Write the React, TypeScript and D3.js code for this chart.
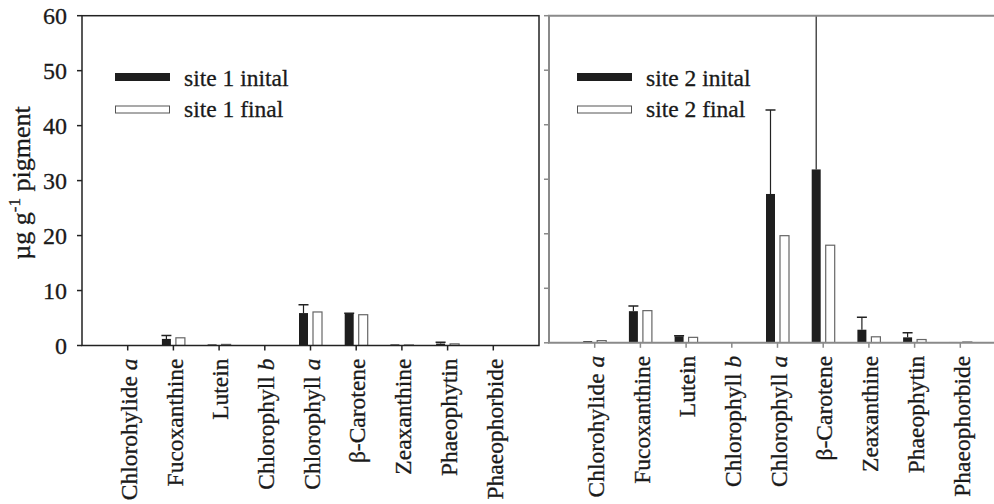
import React from 'react';
import * as d3 from 'd3';

// pigment names; the trailing italic letter is kept separately
const categories = ['Chlorohylide', 'Fucoxanthine', 'Lutein', 'Chlorophyll', 'Chlorophyll', 'β-Carotene', 'Zeaxanthine', 'Phaeophytin', 'Phaeophorbide'];
const categoryItalic = ['a', '', '', 'b', 'a', '', '', '', ''];

const site1Initial = [0, 1.2, 0.2, 0, 5.9, 5.75, 0.2, 0.35, 0];
const site1InitialErr = [0, 0.6, 0, 0, 1.5, 0.1, 0, 0.25, 0];
const site1Final = [0, 1.4, 0.2, 0, 6.1, 5.6, 0.1, 0.3, 0];

const site2Initial = [0.3, 5.8, 1.2, 0, 27.3, 31.8, 2.4, 1.0, 0.15];
const site2InitialErr = [0, 0.95, 0.1, 0, 15.4, 40, 2.3, 0.85, 0];
const site2Final = [0.4, 5.9, 1.0, 0, 19.65, 17.9, 1.1, 0.6, 0.15];

const yTicks = [0, 10, 20, 30, 40, 50, 60];

const FONT = "'Liberation Serif', 'Times New Roman', Tinos, serif";
const INK = '#1a1a1a';
// the scan is a bit heavier than the plain font, a thin stroke darkens it
const txt = { fontFamily: FONT, stroke: INK, strokeWidth: 0.3 };

const panels = [
  { x0: 82, x1: 539, y0: 345.5, y1: 15.7, init: site1Initial, err: site1InitialErr, fin: site1Final, name: 'site 1', frame: '#222', labels: true, box: true, legendX: 33 },
  { x0: 549, x1: 1006, y0: 342.8, y1: 15.7, init: site2Initial, err: site2InitialErr, fin: site2Final, name: 'site 2', frame: '#8a8a8a', labels: false, box: false, legendX: 28 },
];

const Panel = ({ p, pi }) => {
  const idx = d3.range(categories.length);
  const x = d3.scalePoint<number>().domain(idx).range([p.x0, p.x1]).padding(1);
  const y = d3.scaleLinear().domain([0, 60]).range([p.y0, p.y1]);
  const barW = 9;
  const clipId = `clip${pi}`;

  return (
    <g>
      <clipPath id={clipId}>
        <rect x={p.x0} y={p.y1} width={p.x1 - p.x0} height={p.y0 - p.y1} />
      </clipPath>
      <g clipPath={`url(#${clipId})`}>
        {p.init.map((d, i) => (
          <rect key={'i' + i} x={x(i)! - 11.5} y={y(d)} width={barW} height={p.y0 - y(d)} fill="#1e1e1e" />
        ))}
        {p.fin.map((d, i) => d > 0 && (
          <rect key={'f' + i} x={x(i)! + 2.5} y={y(d)} width={barW} height={p.y0 - y(d)}
            fill="white" stroke="#666" strokeWidth={1.2} />
        ))}
        {/* error bars on the initial bars */}
        {p.err.map((e, i) => {
          if (e <= 0) return null;
          const cx = x(i)! - 7;
          const top = y(p.init[i] + e);
          return (
            <g key={'e' + i} stroke="#222">
              <line x1={cx} x2={cx} y1={y(p.init[i])} y2={top} strokeWidth={1.2} />
              <line x1={cx - 5} x2={cx + 5} y1={top} y2={top} strokeWidth={1.5} />
            </g>
          );
        })}
      </g>

      {p.box
        ? <rect x={p.x0} y={p.y1} width={p.x1 - p.x0} height={p.y0 - p.y1} fill="none" stroke={p.frame} strokeWidth={1.5} />
        : <path d={`M${p.x1},${p.y1}H${p.x0}V${p.y0}H${p.x1}`} fill="none" stroke={p.frame} strokeWidth={2} />}

      {yTicks.map(t => (
        <line key={'yt' + t} x1={p.x0 - 5} x2={p.x0} y1={y(t)} y2={y(t)} stroke={p.frame} strokeWidth={1.5} />
      ))}
      {p.labels && yTicks.map(t => (
        <text key={'yl' + t} x={p.x0 - 15} y={y(t)} dy="0.35em" textAnchor="end"
          style={txt} fontSize={24} fill={INK}>{t}</text>
      ))}

      {idx.map(i => (
        <line key={'xt' + i} x1={x(i)} x2={x(i)} y1={p.y0} y2={p.y0 + 5} stroke={p.frame} strokeWidth={1.5} />
      ))}
      {idx.map(i => (
        <text key={'xl' + i} transform={`translate(${x(i)! + 1},${p.y0 + 13}) rotate(-90)`}
          dy="0.35em" textAnchor="end" style={txt} fontSize={23.5} fill={INK}>
          {categories[i]}
          {categoryItalic[i] && <tspan fontStyle="italic">{' ' + categoryItalic[i]}</tspan>}
        </text>
      ))}

      <g transform={`translate(${p.x0 + p.legendX},0)`}>
        <rect x={0} y={73} width={55} height={8} fill="#1e1e1e" />
        <rect x={0.5} y={106} width={54} height={7} fill="white" stroke="#555" strokeWidth={1} />
        <text x={69} y={86} style={txt} fontSize={23.5} fill={INK}>{`${p.name} inital`}</text>
        <text x={69} y={117} style={txt} fontSize={23.5} fill={INK}>{`${p.name} final`}</text>
      </g>
    </g>
  );
};

const App = () => (
  <svg width={994} height={504} style={{ position: 'absolute', left: 0, top: 0, fontFamily: FONT }}>
    <rect width={994} height={504} fill="white" />
    {panels.map((p, pi) => <Panel key={pi} p={p} pi={pi} />)}
    <text transform="translate(30,183) rotate(-90)" textAnchor="middle" style={txt} fontSize={26} fill={INK}>
      µg g<tspan fontSize={17} dy={-10}>-1</tspan><tspan dy={10}> pigment</tspan>
    </text>
  </svg>
);

export default App;
